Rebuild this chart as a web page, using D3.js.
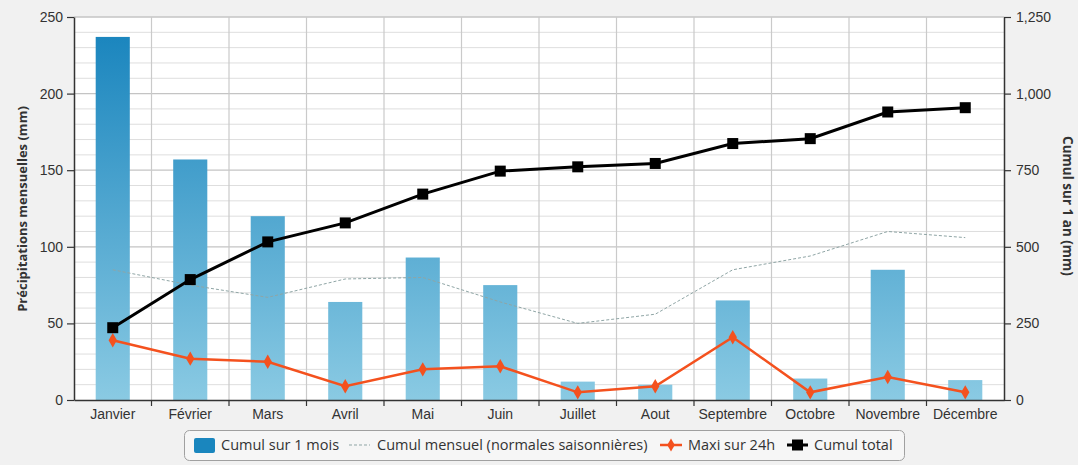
<!DOCTYPE html>
<html>
<head>
<meta charset="utf-8">
<script src="https://cdn.jsdelivr.net/npm/d3@7"></script>
<style>
  html, body { margin: 0; padding: 0; background: #f1f1f1; }
  svg { display: block; font-family: "Open Sans", sans-serif; }
</style>
</head>
<body>
<svg id="chart" width="1078" height="465"></svg>
<script>
// Monthly precipitation data
const months = ["Janvier", "Février", "Mars", "Avril", "Mai", "Juin", "Juillet", "Aout", "Septembre", "Octobre", "Novembre", "Décembre"];
const cumulMois = [237, 157, 120, 64, 93, 75, 12, 10, 65, 14, 85, 13];
const normales = [85, 75, 67, 79, 80, 64, 50, 56, 85, 94, 110, 106];
const maxi24h = [39, 27, 25, 9, 20, 22, 5, 9, 41, 5, 15, 5];
const cumulTotal = [236, 393, 516, 578, 672, 747, 761, 772, 837, 853, 940, 954];
const leftTicks = [0, 50, 100, 150, 200, 250];
const rightTicks = [0, 250, 500, 750, 1000, 1250];

const svg = d3.select("#chart");
const m = { left: 74, right: 1004, top: 17, bottom: 400 };

const x = d3.scaleBand().domain(months).range([m.left, m.right]).padding(0);
const yL = d3.scaleLinear().domain([0, 250]).range([m.bottom, m.top]);
const yR = d3.scaleLinear().domain([0, 1250]).range([m.bottom, m.top]);
const cx = d => x(d) + x.bandwidth() / 2;

// gradient for the bars
const defs = svg.append("defs");
const grad = defs.append("linearGradient").attr("id", "barGrad")
  .attr("gradientUnits", "userSpaceOnUse")
  .attr("x1", 0).attr("x2", 0).attr("y1", m.top).attr("y2", m.bottom);
grad.append("stop").attr("offset", "0%").attr("stop-color", "#1582bc");
grad.append("stop").attr("offset", "100%").attr("stop-color", "#8acae3");

// plot background
svg.append("rect").attr("x", m.left).attr("y", m.top)
  .attr("width", m.right - m.left).attr("height", m.bottom - m.top).attr("fill", "#ffffff");

// minor horizontal grid
const minor = d3.range(0, 251, 10).filter(v => v % 50 !== 0);
svg.append("g").selectAll("line").data(minor).join("line")
  .attr("x1", m.left).attr("x2", m.right)
  .attr("y1", d => yL(d)).attr("y2", d => yL(d))
  .attr("stroke", "#dedede").attr("stroke-width", 1);
// major horizontal grid
svg.append("g").selectAll("line").data(leftTicks.filter(v => v > 0)).join("line")
  .attr("x1", m.left).attr("x2", m.right)
  .attr("y1", d => yL(d)).attr("y2", d => yL(d))
  .attr("stroke", "#c4c4c4").attr("stroke-width", 1.3);
// vertical grid
svg.append("g").selectAll("line").data(months.slice(1)).join("line")
  .attr("x1", d => x(d)).attr("x2", d => x(d))
  .attr("y1", m.top).attr("y2", m.bottom)
  .attr("stroke", "#cacaca").attr("stroke-width", 1.2);

// bars: monthly total
const barW = x.bandwidth() * 0.44;
svg.append("g").selectAll("rect").data(months).join("rect")
  .attr("x", (d) => cx(d) - barW / 2)
  .attr("width", barW)
  .attr("y", (d, i) => yL(cumulMois[i]))
  .attr("height", (d, i) => m.bottom - yL(cumulMois[i]))
  .attr("fill", "url(#barGrad)");

// seasonal normals
svg.append("path")
  .attr("d", d3.line().x((d, i) => cx(months[i])).y(d => yL(d))(normales))
  .attr("fill", "none").attr("stroke", "#8fa5a5").attr("stroke-width", 1)
  .attr("stroke-dasharray", "3,2");

// max over 24h
svg.append("path")
  .attr("d", d3.line().x((d, i) => cx(months[i])).y(d => yL(d))(maxi24h))
  .attr("fill", "none").attr("stroke", "#f4511e").attr("stroke-width", 2.5);
svg.append("g").selectAll("path").data(maxi24h).join("path")
  .attr("d", d3.symbol(d3.symbolDiamond, 60))
  .attr("transform", (d, i) => `translate(${cx(months[i])},${yL(d)})`)
  .attr("fill", "#f4511e");

// running total (right axis)
svg.append("path")
  .attr("d", d3.line().x((d, i) => cx(months[i])).y(d => yR(d))(cumulTotal))
  .attr("fill", "none").attr("stroke", "#000").attr("stroke-width", 3);
svg.append("g").selectAll("rect").data(cumulTotal).join("rect")
  .attr("x", (d, i) => cx(months[i]) - 5.5)
  .attr("y", d => yR(d) - 5.5)
  .attr("width", 11).attr("height", 11).attr("fill", "#000");

// axes
const axisStyle = g => {
  g.select(".domain").attr("stroke", "#333").attr("stroke-width", 1.5);
  g.selectAll(".tick line").attr("stroke", "#333").attr("stroke-width", 1.2);
  g.selectAll(".tick text").attr("fill", "#333").style("font-size", "14px");
};
svg.append("g").attr("transform", `translate(${m.left},0)`)
  .call(d3.axisLeft(yL).tickValues(leftTicks).tickSize(7).tickSizeOuter(0).tickPadding(4))
  .call(axisStyle);
svg.append("g").attr("transform", `translate(${m.right},0)`)
  .call(d3.axisRight(yR).tickValues(rightTicks).tickFormat(d3.format(",")).tickSize(7).tickSizeOuter(0).tickPadding(5))
  .call(axisStyle);
const xAxis = svg.append("g").attr("transform", `translate(0,${m.bottom})`)
  .call(d3.axisBottom(x).tickSize(0).tickSizeOuter(0).tickPadding(7))
  .call(axisStyle);
xAxis.selectAll(".tick text").attr("dy", "0.85em");
// tick marks on band boundaries
xAxis.append("g").selectAll("line").data(months.slice(1)).join("line")
  .attr("x1", d => x(d)).attr("x2", d => x(d)).attr("y1", 0).attr("y2", 6)
  .attr("stroke", "#333").attr("stroke-width", 1.2);

// axis titles
svg.append("text")
  .attr("transform", `translate(27,209) rotate(-90)`)
  .attr("text-anchor", "middle").attr("fill", "#333")
  .style("font-size", "13px").style("font-weight", "bold")
  .text("Précipitations mensuelles (mm)");
svg.append("text")
  .attr("transform", `translate(1063,206) rotate(90)`)
  .attr("text-anchor", "middle").attr("fill", "#333")
  .style("font-size", "13.5px").style("font-weight", "bold")
  .text("Cumul sur 1 an (mm)");

// legend
const lg = svg.append("g");
lg.append("rect").attr("x", 184.5).attr("y", 430.5).attr("width", 720).attr("height", 30)
  .attr("rx", 5).attr("fill", "#f6f6f6").attr("stroke", "#a0a0a0");
const ly = 445;
const lt = (xp, s) => lg.append("text").attr("x", xp).attr("y", ly).attr("dy", "0.35em")
  .attr("fill", "#333").style("font-size", "14.5px").text(s);
lg.append("rect").attr("x", 194).attr("y", 438).attr("width", 21).attr("height", 15).attr("rx", 2)
  .attr("fill", "#1a86be");
lt(221, "Cumul sur 1 mois");
lg.append("line").attr("x1", 349).attr("x2", 370).attr("y1", ly).attr("y2", ly)
  .attr("stroke", "#8fa5a5").attr("stroke-dasharray", "3,2");
lt(377, "Cumul mensuel (normales saisonnières)");
lg.append("line").attr("x1", 660).attr("x2", 682).attr("y1", ly).attr("y2", ly)
  .attr("stroke", "#f4511e").attr("stroke-width", 2.5);
lg.append("path").attr("d", d3.symbol(d3.symbolDiamond, 50)).attr("transform", `translate(671,${ly})`)
  .attr("fill", "#f4511e");
lt(688, "Maxi sur 24h");
lg.append("line").attr("x1", 787).attr("x2", 808).attr("y1", ly).attr("y2", ly)
  .attr("stroke", "#000").attr("stroke-width", 3);
lg.append("rect").attr("x", 792).attr("y", ly - 5.5).attr("width", 11).attr("height", 11).attr("fill", "#000");
lt(814, "Cumul total");
</script>
</body>
</html>
